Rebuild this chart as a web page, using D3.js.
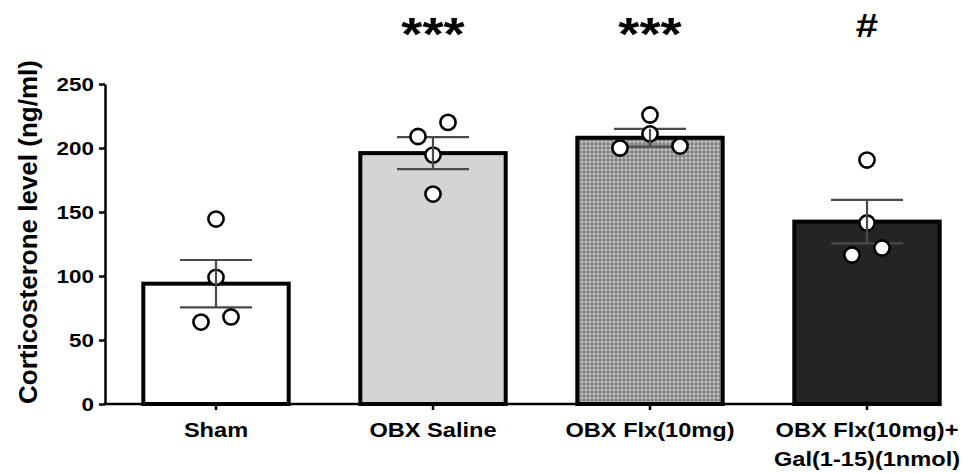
<!DOCTYPE html>
<html><head><meta charset="utf-8">
<script src="https://cdn.jsdelivr.net/npm/d3@7"></script>
<style>html,body{margin:0;padding:0;background:#fff;overflow:hidden;} svg{display:block;}</style>
</head><body>
<svg id="chart" width="963" height="473"></svg>
<script>
// ---------- data ----------
const categories = ["Sham", "OBX Saline", "OBX Flx(10mg)", "OBX Flx(10mg)+ Gal(1-15)(1nmol)"];
const labelLines = [["Sham"], ["OBX Saline"], ["OBX Flx(10mg)"], ["OBX Flx(10mg)+", "Gal(1-15)(1nmol)"]];
const means = [94, 196, 208, 142.5];
const sems = [18.5, 12.5, 7, 17];
const shamPoints = [144.5, 99, 64, 68];
const salinePoints = [209, 220, 194.5, 164];
const flxPoints = [225.8, 211, 200, 201.5];
const flxGalPoints = [190.6, 141.4, 116.4, 121.9];
const yTicks = [0, 50, 100, 150, 200, 250];
const significance = ["", "***", "***", "#"];
const yTitle = "Corticosterone level (ng/ml)";

// ---------- setup ----------
const svg = d3.select("#chart");
const FONT = "'Liberation Sans', Arial, Helvetica, sans-serif";
const KX = 1.18;
const y = d3.scaleLinear().domain([0, 250]).range([404, 84]);
const x = d3.scaleBand().domain(categories).range([107.5, 975.5]).paddingInner(0.33).paddingOuter(0.165);
const fills = ["#ffffff", "#d4d4d4", "url(#dots)", "#242424"];
const pointSets = [shamPoints, salinePoints, flxPoints, flxGalPoints];

const defs = svg.append("defs");
const pat = defs.append("pattern").attr("id", "dots").attr("patternUnits", "userSpaceOnUse")
  .attr("width", 4).attr("height", 4);
pat.append("rect").attr("width", 4).attr("height", 4).attr("fill", "#6c6c6c");
pat.append("rect").attr("x", 0.5).attr("y", 0.5).attr("width", 3).attr("height", 3).attr("fill", "#c2c2c2");

// bars
svg.append("g").selectAll("rect").data(categories).join("rect")
  .attr("x", d => x(d))
  .attr("width", x.bandwidth())
  .attr("y", (d, i) => y(means[i]))
  .attr("height", (d, i) => y(0) - y(means[i]))
  .attr("fill", (d, i) => fills[i])
  .attr("stroke", "#000").attr("stroke-width", 4);

// y axis
const yAxisG = svg.append("g").attr("transform", "translate(105,0)")
  .call(d3.axisLeft(y).tickValues(yTicks).tickSize(6).tickSizeOuter(0));
yAxisG.select(".domain").attr("stroke", "#000").attr("stroke-width", 2.5);
yAxisG.selectAll(".tick line").attr("stroke", "#000").attr("stroke-width", 2.5);
yAxisG.selectAll(".tick text")
  .attr("x", 0).attr("dy", "0.36em")
  .attr("transform", `translate(-11,0) scale(${KX},1)`)
  .attr("font-family", FONT).attr("font-weight", "bold").attr("font-size", 19).attr("fill", "#000");

// x axis
const xAxisG = svg.append("g").attr("transform", "translate(0,404)");
xAxisG.append("line").attr("x1", 104).attr("x2", x(categories[3]) + x.bandwidth() + 1.5)
  .attr("y1", 0).attr("y2", 0).attr("stroke", "#000").attr("stroke-width", 2.5);
xAxisG.selectAll(".xt").data(categories).join("line").attr("class", "xt")
  .attr("x1", d => x(d) + x.bandwidth() / 2).attr("x2", d => x(d) + x.bandwidth() / 2)
  .attr("y1", 0).attr("y2", 6).attr("stroke", "#000").attr("stroke-width", 2.5);
const xl = svg.append("g").selectAll("g").data(categories).join("g")
  .attr("transform", d => `translate(${x(d) + x.bandwidth() / 2},437) scale(${KX},1)`);
xl.each(function (d, i) {
  const t = d3.select(this).append("text").attr("text-anchor", "middle")
    .attr("font-family", FONT).attr("font-weight", "bold").attr("font-size", 20).attr("fill", "#000");
  labelLines[i].forEach((ln, j) => t.append("tspan").attr("x", 0).attr("y", j * 29).text(ln));
});

// y title
svg.append("text").attr("transform", "translate(37,232) rotate(-90)")
  .attr("text-anchor", "middle").attr("font-family", FONT).attr("font-weight", "bold")
  .attr("font-size", 26).attr("fill", "#000").text(yTitle);

// beeswarm offsets: pair points that are close in value, spread pairs symmetrically
function swarm(vals) {
  const idx = vals.map((v, i) => i).sort((a, b) => vals[a] - vals[b]);
  const off = new Array(vals.length).fill(0);
  const rows = [];
  let k = 0;
  while (k < idx.length) {
    if (k + 1 < idx.length && Math.abs(y(vals[idx[k]]) - y(vals[idx[k + 1]])) < 16) {
      rows.push([idx[k], idx[k + 1]]); k += 2;
    } else { rows.push([idx[k]]); k += 1; }
  }
  const singles = rows.filter(r => r.length === 1).map(r => r[0]);
  rows.filter(r => r.length === 2).forEach(r => {
    let s = 15;
    const clash = () => r.some(p => singles.some(q => Math.hypot(s, y(vals[p]) - y(vals[q])) < 20));
    while (clash()) s += 15;
    off[r[0]] = -s; off[r[1]] = s;
  });
  return off;
}

const errG = svg.append("g");
// caps
categories.forEach((c, i) => {
  const cx = x(c) + x.bandwidth() / 2;
  [means[i] + sems[i], means[i] - sems[i]].forEach(v => {
    errG.append("line").attr("x1", cx - 36).attr("x2", cx + 36).attr("y1", y(v)).attr("y2", y(v))
      .attr("stroke", "#4a4a4a").attr("stroke-width", 2.2);
  });
});

// points
const ptG = svg.append("g");
categories.forEach((c, i) => {
  const cx = x(c) + x.bandwidth() / 2;
  const vals = pointSets[i];
  const off = swarm(vals);
  ptG.selectAll(null).data(vals).join("circle")
    .attr("cx", (v, j) => cx + off[j]).attr("cy", v => y(v)).attr("r", 7.6)
    .attr("fill", "#fff").attr("stroke", "#000").attr("stroke-width", 2.6);
});

// stems
categories.forEach((c, i) => {
  const cx = x(c) + x.bandwidth() / 2;
  svg.append("line").attr("x1", cx).attr("x2", cx)
    .attr("y1", y(means[i] + sems[i])).attr("y2", y(means[i] - sems[i]))
    .attr("stroke", "#4a4a4a").attr("stroke-width", 2.2);
});

// significance marks
svg.append("g").selectAll("g").data(categories).join("g")
  .attr("transform", (d, i) => `translate(${x(d) + x.bandwidth() / 2},${significance[i] === "#" ? 37 : 50}) scale(${KX},1)`)
  .append("text").attr("text-anchor", "middle").attr("font-family", FONT).attr("font-weight", "bold")
  .attr("font-size", (d, i) => significance[i] === "#" ? 34 : 46).attr("fill", "#000")
  .text((d, i) => significance[i]);
</script>
</body></html>
